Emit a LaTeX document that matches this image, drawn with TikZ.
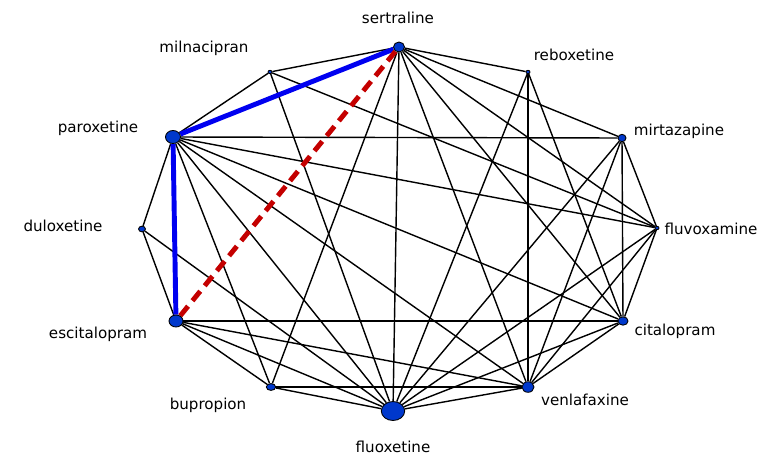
\documentclass[tikz,border=0pt]{standalone}
\usepackage{fontspec}
\setmainfont{DejaVu Sans}
\usepackage{tikz}
\usetikzlibrary{shapes.geometric, backgrounds}
\definecolor{drugBlue}{HTML}{0038CC}
\definecolor{pathBlue}{HTML}{0000F0}
\definecolor{pathRed}{HTML}{C40000}

\begin{document}
\begin{tikzpicture}[x=0.02cm, y=-0.02cm,
  drug/.style 2 args={ellipse, draw=black, line width=0.5pt, fill=drugBlue,
              inner sep=0pt, minimum width=#1*0.2mm, minimum height=#2*0.2mm},
  lbl/.style={font=\fontsize{8.6}{10}\selectfont, text=black, inner sep=0pt},
  link/.style={line width=0.8pt},
  direct/.style={line width=2.8pt, pathBlue},
  indirect/.style={line width=2.8pt, pathRed, dash pattern=on 7pt off 4pt}
]
\useasboundingbox (0,0) rectangle (778,460);

% treatments
\node[drug={11}{10}]   (sert) at (399,47)  {};
\node[drug={4}{3.4}]   (miln) at (270,72)  {};
\node[drug={4}{3.4}]   (rebo) at (528,72)  {};
\node[drug={15}{13}]   (paro) at (173,137) {};
\node[drug={8}{7.4}]   (mirt) at (622,138) {};
\node[drug={7}{5.6}]   (dulo) at (142,229) {};
\node[drug={4}{3.4}]   (fluv) at (657,228) {};
\node[drug={14}{12}]   (esci) at (176,321) {};
\node[drug={10}{8.4}]  (cita) at (623,321) {};
\node[drug={9.4}{6.8}] (bupr) at (271,387) {};
\node[drug={12}{10.6}] (venl) at (528,387) {};
\node[drug={23.4}{19}] (fluo) at (393,411) {};

% names
\node[lbl] (sert-l) at (398,18)  {sertraline};
\node[lbl] (miln-l) at (204,48)  {milnacipran};
\node[lbl] (rebo-l) at (574,55)  {reboxetine};
\node[lbl] (paro-l) at (98,128)  {paroxetine};
\node[lbl] (mirt-l) at (679,131) {mirtazapine};
\node[lbl] (dulo-l) at (63,226)  {duloxetine};
\node[lbl] (fluv-l) at (711,229) {fluvoxamine};
\node[lbl] (esci-l) at (98,334)  {escitalopram};
\node[lbl] (cita-l) at (675,331) {citalopram};
\node[lbl] (bupr-l) at (208,405) {bupropion};
\node[lbl] (venl-l) at (585,400) {venlafaxine};
\node[lbl] (fluo-l) at (393,447) {fluoxetine};

% comparisons
\begin{scope}[on background layer]
\foreach \a/\b in {sert/miln, sert/bupr, sert/fluo, sert/venl, sert/cita,
                   sert/fluv, sert/mirt, sert/rebo,
                   miln/paro, miln/fluv, miln/fluo,
                   rebo/fluo, rebo/venl, rebo/cita,
                   paro/dulo, paro/mirt, paro/fluv, paro/cita, paro/venl,
                   paro/fluo, paro/bupr,
                   mirt/fluv, mirt/cita, mirt/venl, mirt/fluo,
                   dulo/esci, dulo/fluo,
                   fluv/cita, fluv/venl, fluv/fluo,
                   esci/cita, esci/venl, esci/fluo, esci/bupr,
                   cita/venl, cita/fluo,
                   bupr/venl, bupr/fluo, venl/fluo}
  \draw[link] (\a) -- (\b);
\draw[direct] (paro) -- (sert);
\draw[direct] (paro) -- (esci);
\draw[indirect] (esci) -- (sert);
\end{scope}
\end{tikzpicture}
\end{document}
